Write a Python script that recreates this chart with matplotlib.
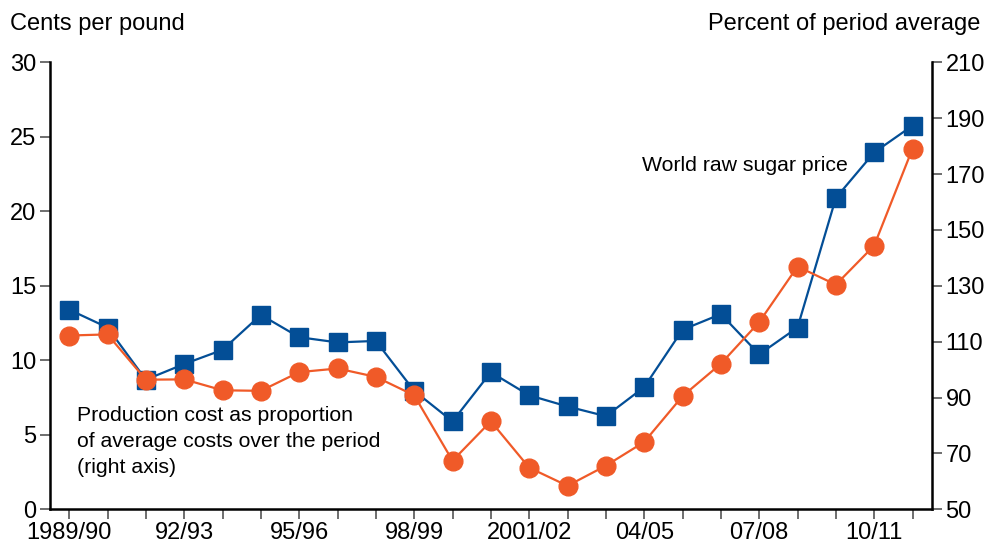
import matplotlib
matplotlib.use("Agg")
import matplotlib.pyplot as plt

plt.rcParams['font.family'] = ['Liberation Sans', 'DejaVu Sans']

years = ["1989/90", "90/91", "91/92", "92/93", "93/94", "94/95", "95/96", "96/97",
         "97/98", "98/99", "99/2000", "2000/01", "2001/02", "02/03", "03/04", "04/05",
         "05/06", "06/07", "07/08", "08/09", "09/10", "10/11", "11/12"]
tick_labels = ["1989/90", "92/93", "95/96", "98/99", "2001/02", "04/05", "07/08", "10/11"]
world_price = [13.4, 12.2, 8.7, 9.75, 10.7, 13.05, 11.55, 11.2, 11.3, 7.95, 5.9, 9.2,
               7.65, 6.9, 6.25, 8.2, 12.05, 13.1, 10.4, 12.2, 20.9, 23.95, 25.75]
prod_cost = [112.2, 112.6, 96.4, 96.5, 92.6, 92.4, 99.1, 100.4, 97.4, 90.8, 67.4, 81.5,
             64.9, 58.4, 65.6, 74.1, 90.5, 102.1, 117.0, 136.9, 130.4, 144.4, 179.1]

blue = "#034E96"
orange = "#F05A28"

fig = plt.figure(figsize=(9.85, 5.44), dpi=100)
ax = fig.add_axes([50/985, (544-509.3)/544, (931.7-50)/985, (509.3-62.3)/544])
ax2 = ax.twinx()

x = list(range(len(years)))
ax.plot(x, world_price, color=blue, lw=1.6, marker='s', ms=13.5, mec=blue, mfc=blue, zorder=3)
ax2.plot(x, prod_cost, color=orange, lw=1.6, marker='o', ms=13.5, mec=orange, mfc=orange, zorder=3)

ax.set_xlim(-0.5, 22.5)
ax.set_ylim(0, 30)
ax2.set_ylim(50, 210)
ax.set_yticks(range(0, 31, 5))
ax2.set_yticks(range(50, 211, 20))
ax.set_xticks(x)
ax.set_xticklabels([y if y in tick_labels else "" for y in years])

for a in (ax, ax2):
    a.spines['top'].set_visible(False)
    for s in a.spines.values():
        s.set_linewidth(1.8)
        s.set_color('black')
    a.tick_params(axis='both', labelsize=17, length=7, width=1.2, color='#555555', labelcolor='black')
ax.tick_params(axis='y', pad=3)
ax2.tick_params(axis='y', pad=3)
ax.tick_params(axis='x', pad=2)
ax.spines['right'].set_visible(False)
ax2.spines['left'].set_visible(False)
ax2.spines['bottom'].set_visible(False)

fig.text(10/985, 1 - 24/544, "Cents per pound", fontsize=17, ha='left', va='center')
fig.text(980/985, 1 - 24/544, "Percent of period average", fontsize=17, ha='right', va='center')

ax.text(0.2, 4.55, "Production cost as proportion\nof average costs over the period\n(right axis)",
        fontsize=15.3, ha='left', va='center', linespacing=1.45)
ax.text(14.95, 23.1, "World raw sugar price", fontsize=15.3, ha='left', va='center')

fig.savefig("out.png", dpi=100)
